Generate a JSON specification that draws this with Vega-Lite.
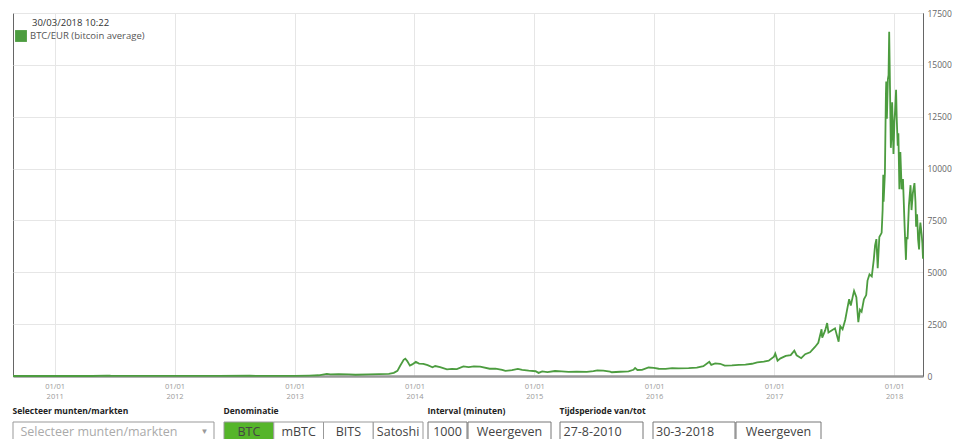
{
  "$schema": "https://vega.github.io/schema/vega-lite/v6.json",
  "padding": {"left": 8, "top": 8, "right": 0, "bottom": 0},
  "spacing": 7,
  "config": {"font": "Open Sans", "view": {"stroke": "#666"}, "title": {"anchor": "start", "fontSize": 8.5, "fontWeight": "bold", "color": "#222", "offset": 6}},
  "vconcat": [
    {
      "width": 910,
      "height": 363,
      "title": {"text": "30/03/2018 10:22", "anchor": "start", "frame": "group", "offset": -18, "dx": 19, "fontSize": 9.5, "fontWeight": "normal", "color": "#333"},
      "data": {"values": [
        {"date": "2010-08-27", "eur": 0.05}, {"date": "2010-10-15", "eur": 0.08}, {"date": "2010-11-08", "eur": 0.25}, {"date": "2010-12-15", "eur": 0.18},
        {"date": "2011-02-10", "eur": 0.8}, {"date": "2011-03-15", "eur": 0.6}, {"date": "2011-04-25", "eur": 1.2}, {"date": "2011-06-08", "eur": 20},
        {"date": "2011-06-20", "eur": 12}, {"date": "2011-07-15", "eur": 10}, {"date": "2011-08-20", "eur": 8}, {"date": "2011-10-20", "eur": 2.3},
        {"date": "2011-11-20", "eur": 2}, {"date": "2012-01-10", "eur": 5}, {"date": "2012-03-01", "eur": 3.8}, {"date": "2012-05-15", "eur": 3.9},
        {"date": "2012-08-17", "eur": 11}, {"date": "2012-09-15", "eur": 9}, {"date": "2012-11-15", "eur": 8.5}, {"date": "2013-01-01", "eur": 10},
        {"date": "2013-02-15", "eur": 20}, {"date": "2013-03-15", "eur": 35}, {"date": "2013-04-09", "eur": 100}, {"date": "2013-04-20", "eur": 75},
        {"date": "2013-05-15", "eur": 85}, {"date": "2013-06-15", "eur": 80}, {"date": "2013-07-05", "eur": 60}, {"date": "2013-08-15", "eur": 80},
        {"date": "2013-09-15", "eur": 95}, {"date": "2013-10-15", "eur": 100}, {"date": "2013-10-30", "eur": 150}, {"date": "2013-11-10", "eur": 250},
        {"date": "2013-11-18", "eur": 480}, {"date": "2013-11-29", "eur": 780}, {"date": "2013-12-04", "eur": 830}, {"date": "2013-12-10", "eur": 720},
        {"date": "2013-12-18", "eur": 500}, {"date": "2013-12-25", "eur": 560}, {"date": "2014-01-05", "eur": 680}, {"date": "2014-01-15", "eur": 600},
        {"date": "2014-01-28", "eur": 580}, {"date": "2014-02-10", "eur": 520}, {"date": "2014-02-25", "eur": 420}, {"date": "2014-03-05", "eur": 480},
        {"date": "2014-03-20", "eur": 430}, {"date": "2014-04-10", "eur": 320}, {"date": "2014-04-25", "eur": 340}, {"date": "2014-05-10", "eur": 330},
        {"date": "2014-05-30", "eur": 460}, {"date": "2014-06-15", "eur": 430}, {"date": "2014-07-01", "eur": 465}, {"date": "2014-07-20", "eur": 455},
        {"date": "2014-08-18", "eur": 350}, {"date": "2014-09-05", "eur": 360}, {"date": "2014-09-25", "eur": 300}, {"date": "2014-10-05", "eur": 250},
        {"date": "2014-10-25", "eur": 280}, {"date": "2014-11-12", "eur": 340}, {"date": "2014-11-25", "eur": 300}, {"date": "2014-12-15", "eur": 260},
        {"date": "2015-01-05", "eur": 230}, {"date": "2015-01-14", "eur": 150}, {"date": "2015-01-25", "eur": 220}, {"date": "2015-02-10", "eur": 190},
        {"date": "2015-03-05", "eur": 240}, {"date": "2015-03-25", "eur": 220}, {"date": "2015-04-15", "eur": 200}, {"date": "2015-05-10", "eur": 215},
        {"date": "2015-06-10", "eur": 200}, {"date": "2015-06-30", "eur": 230}, {"date": "2015-07-12", "eur": 275}, {"date": "2015-07-30", "eur": 260},
        {"date": "2015-08-20", "eur": 210}, {"date": "2015-08-25", "eur": 180}, {"date": "2015-09-20", "eur": 205}, {"date": "2015-10-15", "eur": 225},
        {"date": "2015-10-30", "eur": 300}, {"date": "2015-11-04", "eur": 390}, {"date": "2015-11-11", "eur": 290}, {"date": "2015-11-25", "eur": 300},
        {"date": "2015-12-15", "eur": 410}, {"date": "2015-12-31", "eur": 395}, {"date": "2016-01-15", "eur": 350}, {"date": "2016-02-05", "eur": 345},
        {"date": "2016-02-25", "eur": 380}, {"date": "2016-03-15", "eur": 370}, {"date": "2016-04-15", "eur": 380}, {"date": "2016-05-10", "eur": 400},
        {"date": "2016-05-30", "eur": 470}, {"date": "2016-06-17", "eur": 680}, {"date": "2016-06-23", "eur": 540}, {"date": "2016-07-05", "eur": 610},
        {"date": "2016-07-20", "eur": 590}, {"date": "2016-08-03", "eur": 500}, {"date": "2016-08-25", "eur": 515}, {"date": "2016-09-15", "eur": 540},
        {"date": "2016-10-05", "eur": 545}, {"date": "2016-10-25", "eur": 590}, {"date": "2016-11-10", "eur": 660}, {"date": "2016-11-30", "eur": 690},
        {"date": "2016-12-15", "eur": 740}, {"date": "2016-12-31", "eur": 930}, {"date": "2017-01-04", "eur": 1080}, {"date": "2017-01-11", "eur": 740},
        {"date": "2017-01-20", "eur": 850}, {"date": "2017-02-05", "eur": 970}, {"date": "2017-02-20", "eur": 1010}, {"date": "2017-03-03", "eur": 1220},
        {"date": "2017-03-10", "eur": 1000}, {"date": "2017-03-24", "eur": 860}, {"date": "2017-04-05", "eur": 1050}, {"date": "2017-04-20", "eur": 1140},
        {"date": "2017-05-05", "eur": 1400}, {"date": "2017-05-15", "eur": 1600}, {"date": "2017-05-25", "eur": 2250}, {"date": "2017-05-27", "eur": 1850},
        {"date": "2017-06-05", "eur": 2200}, {"date": "2017-06-11", "eur": 2550}, {"date": "2017-06-15", "eur": 2100}, {"date": "2017-06-27", "eur": 2220},
        {"date": "2017-07-05", "eur": 2300}, {"date": "2017-07-16", "eur": 1650}, {"date": "2017-07-21", "eur": 2400}, {"date": "2017-07-28", "eur": 2250},
        {"date": "2017-08-05", "eur": 2700}, {"date": "2017-08-12", "eur": 3300}, {"date": "2017-08-17", "eur": 3700}, {"date": "2017-08-22", "eur": 3400},
        {"date": "2017-08-29", "eur": 3900}, {"date": "2017-09-01", "eur": 4100}, {"date": "2017-09-08", "eur": 3800}, {"date": "2017-09-14", "eur": 2600},
        {"date": "2017-09-19", "eur": 3200}, {"date": "2017-09-24", "eur": 3100}, {"date": "2017-10-01", "eur": 3700}, {"date": "2017-10-08", "eur": 3900},
        {"date": "2017-10-12", "eur": 4600}, {"date": "2017-10-18", "eur": 4900}, {"date": "2017-10-25", "eur": 4800}, {"date": "2017-10-31", "eur": 5600},
        {"date": "2017-11-04", "eur": 6300}, {"date": "2017-11-08", "eur": 6600}, {"date": "2017-11-12", "eur": 5200}, {"date": "2017-11-17", "eur": 6700},
        {"date": "2017-11-24", "eur": 6900}, {"date": "2017-11-27", "eur": 8000}, {"date": "2017-11-29", "eur": 9700}, {"date": "2017-11-30", "eur": 8400},
        {"date": "2017-12-04", "eur": 9800}, {"date": "2017-12-07", "eur": 13600}, {"date": "2017-12-08", "eur": 14200}, {"date": "2017-12-10", "eur": 12400},
        {"date": "2017-12-13", "eur": 14300}, {"date": "2017-12-15", "eur": 14500}, {"date": "2017-12-17", "eur": 16600}, {"date": "2017-12-19", "eur": 14400},
        {"date": "2017-12-22", "eur": 11000}, {"date": "2017-12-24", "eur": 11600}, {"date": "2017-12-26", "eur": 13200}, {"date": "2017-12-28", "eur": 12000},
        {"date": "2017-12-30", "eur": 10700}, {"date": "2018-01-02", "eur": 12300}, {"date": "2018-01-04", "eur": 12800}, {"date": "2018-01-07", "eur": 13800},
        {"date": "2018-01-09", "eur": 12400}, {"date": "2018-01-12", "eur": 11100}, {"date": "2018-01-14", "eur": 11700}, {"date": "2018-01-17", "eur": 9000},
        {"date": "2018-01-20", "eur": 10800}, {"date": "2018-01-24", "eur": 9000}, {"date": "2018-01-28", "eur": 9500}, {"date": "2018-02-02", "eur": 7200},
        {"date": "2018-02-06", "eur": 5600}, {"date": "2018-02-08", "eur": 6700}, {"date": "2018-02-11", "eur": 6600}, {"date": "2018-02-15", "eur": 8200},
        {"date": "2018-02-20", "eur": 9200}, {"date": "2018-02-23", "eur": 8000}, {"date": "2018-02-27", "eur": 8800}, {"date": "2018-03-04", "eur": 9300},
        {"date": "2018-03-07", "eur": 8400}, {"date": "2018-03-09", "eur": 7200}, {"date": "2018-03-12", "eur": 7800}, {"date": "2018-03-15", "eur": 6600},
        {"date": "2018-03-18", "eur": 6100}, {"date": "2018-03-20", "eur": 7000}, {"date": "2018-03-22", "eur": 7400}, {"date": "2018-03-26", "eur": 6800},
        {"date": "2018-03-28", "eur": 6400}, {"date": "2018-03-30", "eur": 5650}
      ]},
      "mark": {"type": "line", "strokeWidth": 1.8},
      "encoding": {
        "x": {
          "field": "date", "type": "temporal",
          "scale": {"type": "utc", "domain": [{"year": 2010, "month": 8, "date": 27, "utc": true}, {"year": 2018, "month": 3, "date": 30, "utc": true}]},
          "axis": {"title": null, "tickCount": {"interval": "year", "step": 1}, "labelExpr": "[utcFormat(datum.value, '%d/%m'), utcFormat(datum.value, '%Y')]",
                   "labelFontSize": 7.5, "labelColor": "#999", "labelLineHeight": 10, "ticks": false, "domainColor": "#999", "domainWidth": 2.5,
                   "gridColor": "#e6e6e6", "labelPadding": 6, "labelFlush": false, "labelOverlap": false}
        },
        "y": {
          "field": "eur", "type": "quantitative",
          "scale": {"domain": [0, 17500], "nice": false},
          "axis": {"title": null, "orient": "right", "values": [0, 2500, 5000, 7500, 10000, 12500, 15000, 17500], "format": "d", "ticks": false,
                   "domainColor": "#666", "labelFontSize": 8.5, "labelColor": "#666", "labelPadding": 4, "gridColor": "#e6e6e6"}
        },
        "color": {
          "datum": "BTC/EUR (bitcoin average)",
          "scale": {"range": ["#4c9c3f"]},
          "legend": {"orient": "none", "legendX": 2, "legendY": 17, "title": null, "symbolType": "square", "symbolSize": 140, "symbolStrokeWidth": 0,
                     "symbolFillColor": "#4c9c3f", "labelFontSize": 9.5, "labelColor": "#555", "labelOffset": 3, "padding": 0}
        }
      }
    },
    {
      "spacing": 8,
      "hconcat": [
        {
          "width": 201, "height": 21,
          "view": {"stroke": null},
          "title": "Selecteer munten/markten",
          "data": {"values": [{"item": "Selecteer munten/markten"}]},
          "encoding": {"x": {"field": "item", "type": "nominal", "axis": null, "scale": {"paddingInner": 0, "paddingOuter": 0}}},
          "layer": [
            {"mark": {"type": "bar", "fill": "white", "stroke": "#999", "strokeWidth": 1}},
            {"mark": {"type": "text", "align": "left", "dx": -93, "dy": -1, "fontSize": 12.5, "color": "#aaa"}, "encoding": {"text": {"field": "item"}}},
            {"mark": {"type": "text", "align": "right", "dx": 95, "dy": -1, "fontSize": 8, "color": "#999", "text": "▼"}}
          ]
        },
        {
          "spacing": 7,
          "hconcat": [
            {
              "spacing": 3,
              "hconcat": [
                {
                  "width": 199, "height": 21,
                  "view": {"stroke": null},
                  "title": "Denominatie",
                  "data": {"values": [{"item": "BTC", "on": true}, {"item": "mBTC", "on": false}, {"item": "BITS", "on": false}, {"item": "Satoshi", "on": false}]},
                  "encoding": {"x": {"field": "item", "type": "nominal", "axis": null, "sort": null, "scale": {"paddingInner": 0, "paddingOuter": 0}}},
                  "layer": [
                    {"mark": {"type": "bar", "stroke": "#999", "strokeWidth": 1},
                     "encoding": {"fill": {"condition": {"test": "datum.on", "value": "#55b52a"}, "value": "white"}}},
                    {"mark": {"type": "text", "dy": -1, "fontSize": 12.5, "color": "#444"}, "encoding": {"text": {"field": "item"}}}
                  ]
                },
                {
                  "title": "Interval (minuten)",
                  "spacing": -1,
                  "hconcat": [
                    {
                      "width": 39, "height": 21,
                      "view": {"stroke": null},
                      "data": {"values": [{"item": "1000"}]},
                      "encoding": {"x": {"field": "item", "type": "nominal", "axis": null, "scale": {"paddingInner": 0, "paddingOuter": 0}}},
                      "layer": [
                        {"mark": {"type": "bar", "fill": "white", "stroke": "#777", "strokeWidth": 1}},
                        {"mark": {"type": "text", "dy": -1, "fontSize": 12.5, "color": "#444"}, "encoding": {"text": {"field": "item"}}}
                      ]
                    },
                    {
                      "width": 83, "height": 21,
                      "view": {"stroke": null},
                      "data": {"values": [{"item": "Weergeven"}]},
                      "encoding": {"x": {"field": "item", "type": "nominal", "axis": null, "scale": {"paddingInner": 0, "paddingOuter": 0}}},
                      "layer": [
                        {"mark": {"type": "bar", "fill": "white", "stroke": "#777", "strokeWidth": 1}},
                        {"mark": {"type": "text", "dy": -1, "fontSize": 12.5, "color": "#444"}, "encoding": {"text": {"field": "item"}}}
                      ]
                    }
                  ]
                }
              ]
            },
            {
              "title": "Tijdsperiode van/tot",
              "spacing": 8,
              "hconcat": [
                {
                  "width": 83, "height": 21,
                  "view": {"stroke": null},
                  "data": {"values": [{"item": "27-8-2010"}]},
                  "encoding": {"x": {"field": "item", "type": "nominal", "axis": null, "scale": {"paddingInner": 0, "paddingOuter": 0}}},
                  "layer": [
                    {"mark": {"type": "bar", "fill": "white", "stroke": "#777", "strokeWidth": 1}},
                    {"mark": {"type": "text", "align": "left", "dx": -38, "dy": -1, "fontSize": 12.5, "color": "#444"}, "encoding": {"text": {"field": "item"}}}
                  ]
                },
                {
                  "spacing": -1,
                  "hconcat": [
                    {
                      "width": 82, "height": 21,
                      "view": {"stroke": null},
                      "data": {"values": [{"item": "30-3-2018"}]},
                      "encoding": {"x": {"field": "item", "type": "nominal", "axis": null, "scale": {"paddingInner": 0, "paddingOuter": 0}}},
                      "layer": [
                        {"mark": {"type": "bar", "fill": "white", "stroke": "#777", "strokeWidth": 1}},
                        {"mark": {"type": "text", "align": "left", "dx": -38, "dy": -1, "fontSize": 12.5, "color": "#444"}, "encoding": {"text": {"field": "item"}}}
                      ]
                    },
                    {
                      "width": 85, "height": 21,
                      "view": {"stroke": null},
                      "data": {"values": [{"item": "Weergeven"}]},
                      "encoding": {"x": {"field": "item", "type": "nominal", "axis": null, "scale": {"paddingInner": 0, "paddingOuter": 0}}},
                      "layer": [
                        {"mark": {"type": "bar", "fill": "white", "stroke": "#777", "strokeWidth": 1}},
                        {"mark": {"type": "text", "dy": -1, "fontSize": 12.5, "color": "#444"}, "encoding": {"text": {"field": "item"}}}
                      ]
                    }
                  ]
                }
              ]
            }
          ]
        }
      ]
    }
  ]
}
